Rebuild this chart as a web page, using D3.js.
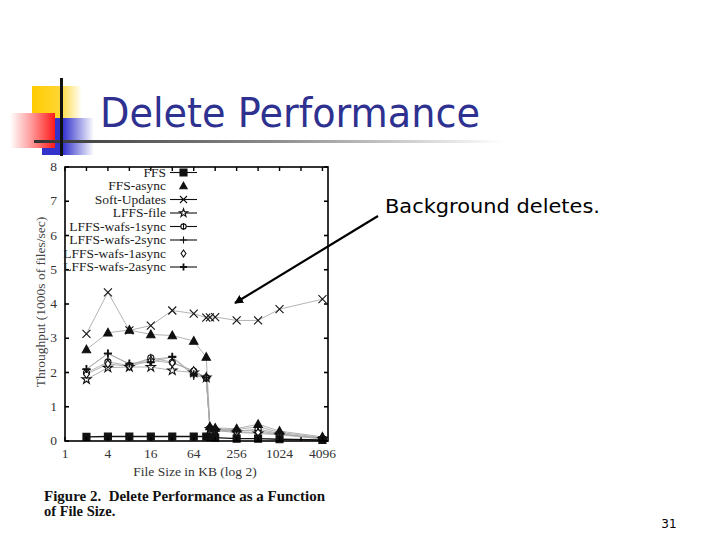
<!DOCTYPE html>
<html>
<head>
<meta charset="utf-8">
<script src="https://cdn.jsdelivr.net/npm/d3@7"></script>
<style>
  body { margin: 0; background: #fff; }
  svg { display: block; }
</style>
</head>
<body>
<svg id="slide" width="720" height="540"></svg>
<script>
// slide with a scanned gnuplot figure: delete throughput vs file size

const sizes = [2, 4, 8, 16, 32, 64, 96, 108, 128, 256, 512, 1024, 4096];
const xTicks = [1, 4, 16, 64, 256, 1024, 4096];
const yTicks = [0, 1, 2, 3, 4, 5, 6, 7, 8];

const seriesNames = ["FFS", "FFS-async", "Soft-Updates", "LFFS-file",
  "LFFS-wafs-1sync", "LFFS-wafs-2sync", "LFFS-wafs-1async", "LFFS-wafs-2async"];

const ffs        = [0.12, 0.13, 0.13, 0.13, 0.13, 0.13, 0.13, 0.11, 0.1, 0.07, 0.07, 0.05, 0.03];
const ffsAsync   = [2.67, 3.16, 3.24, 3.11, 3.08, 2.92, 2.45, 0.42, 0.38, 0.36, 0.49, 0.29, 0.12];
const softUpd    = [3.13, 4.34, 3.23, 3.37, 3.81, 3.72, 3.6, 3.61, 3.62, 3.52, 3.52, 3.85, 4.14];
const lffsFile   = [1.8, 2.14, 2.16, 2.16, 2.06, 2.0, 1.85, 0.35, 0.3, 0.25, 0.22, 0.18, 0.06];
const wafs1sync  = [1.99, 2.31, 2.2, 2.43, 2.3, 2.04, 1.85, 0.38, 0.33, 0.28, 0.35, 0.22, 0.07];
const wafs2sync  = [2.09, 2.56, 2.24, 2.38, 2.45, 1.9, 1.85, 0.4, 0.35, 0.3, 0.3, 0.2, 0.08];
const wafs1async = [1.95, 2.25, 2.18, 2.35, 2.28, 2.05, 1.85, 0.36, 0.32, 0.26, 0.25, 0.2, 0.07];
const wafs2async = [2.1, 2.55, 2.26, 2.3, 2.46, 1.95, 1.85, 0.4, 0.35, 0.33, 0.42, 0.25, 0.1];

const seriesValues = [ffs, ffsAsync, softUpd, lffsFile, wafs1sync, wafs2sync, wafs1async, wafs2async];

const svg = d3.select("#slide");
const defs = svg.append("defs");

function grad(id, stops) {
    const g = defs.append("linearGradient").attr("id", id)
        .attr("x1", 0).attr("y1", 0).attr("x2", 1).attr("y2", 0);
    stops.forEach(s => g.append("stop").attr("offset", s[0]).attr("stop-color", s[1]));
}
grad("gYel", [[0, "#ffcc00"], [0.55, "#ffd633"], [1, "#ffffff"]]);
grad("gBlue", [[0, "#3333cc"], [0.4, "#3333cc"], [1, "#ffffff"]]);
grad("gRed", [[0, "#ffffff"], [0.45, "#ffa0a0"], [1, "#ff1a1a"]]);
grad("gRule", [[0, "#333333"], [0.5, "#8a8a8a"], [1, "#ffffff"]]);

// title decoration
svg.append("rect").attr("x", 32).attr("y", 86).attr("width", 50).attr("height", 34).attr("fill", "url(#gYel)");
svg.append("rect").attr("x", 42).attr("y", 118).attr("width", 52).attr("height", 37).attr("fill", "url(#gBlue)");
svg.append("rect").attr("x", 10).attr("y", 113).attr("width", 45).attr("height", 35).attr("fill", "url(#gRed)");
svg.append("rect").attr("x", 34).attr("y", 140).attr("width", 470).attr("height", 3).attr("fill", "url(#gRule)");
svg.append("rect").attr("x", 60).attr("y", 78).attr("width", 3).attr("height", 78).attr("fill", "#111");

svg.append("text")
    .attr("x", 100).attr("y", 127)
    .attr("font-family", "DejaVu Sans, sans-serif")
    .attr("font-size", 40)
    .attr("textLength", 380).attr("lengthAdjust", "spacingAndGlyphs")
    .attr("fill", "#2e3190")
    .text("Delete Performance");

// chart frame
const plotL = 65, plotR = 328, plotT = 167, plotB = 441;
const x = d3.scaleLog().base(2).domain([1, 4900]).range([plotL, plotR]);
const y = d3.scaleLinear().domain([0, 8]).range([plotB, plotT]);

const serif = "Liberation Serif, Times New Roman, serif";
const chart = svg.append("g");

// markers
function markPath(kind, s) {
    const h = s / 2;
    switch (kind) {
        case "square": return d3.symbol(d3.symbolSquare, s * s)();
        case "triangle": return `M0,${-h * 1.1}L${h * 1.05},${h * 0.8}L${-h * 1.05},${h * 0.8}Z`;
        case "times": return `M${-h},${-h}L${h},${h}M${-h},${h}L${h},${-h}`;
        case "star": return d3.symbol(d3.symbolStar, s * s * 0.42)();
        case "circle": return d3.symbol(d3.symbolCircle, s * s * 0.45)() + `M0,${-h}L0,${h}`;
        case "plus": return `M${-h},0L${h},0M0,${-h}L0,${h}`;
        case "diamond": return `M0,${-h}L${h * 0.7},0L0,${h}L${-h * 0.7},0Z`;
        case "plus2": return `M${-h},0L${h},0M0,${-h}L0,${h}`;
    }
}
const kinds = ["square", "triangle", "times", "star", "circle", "plus", "diamond", "plus2"];
const filled = [true, true, false, false, false, false, false, false];
const lineCol = ["#111", "#aaa", "#aaa", "#aaa", "#aaa", "#aaa", "#aaa", "#aaa"];
const legendLine = [true, false, true, true, true, true, false, true];

function markFill(i) {
    if (filled[i]) return "#111";
    return (kinds[i] === "star" || kinds[i] === "diamond" || kinds[i] === "circle") ? "#fff" : "none";
}

const line = d3.line().x(d => x(d[0])).y(d => y(d[1]));

seriesValues.forEach((vals, i) => {
    const pts = sizes.map((s, j) => [s, vals[j]]);
    chart.append("path")
        .attr("d", line(pts))
        .attr("fill", "none")
        .attr("stroke", lineCol[i])
        .attr("stroke-width", i === 0 ? 1.4 : 0.9);
});

// draw markers after lines, keep FFS-async and squares on top
[3, 4, 5, 6, 7, 2, 1, 0].forEach(i => {
    const vals = seriesValues[i];
    chart.append("g").selectAll("path")
        .data(sizes.map((s, j) => [s, vals[j]]))
        .join("path")
        .attr("transform", d => `translate(${x(d[0])},${y(d[1])})`)
        .attr("d", markPath(kinds[i], i === 0 ? 7 : 8))
        .attr("fill", markFill(i))
        .attr("stroke", "#111")
        .attr("stroke-width", i === 7 ? 1.8 : 1.1);
});

// axes box with inward ticks
chart.append("rect")
    .attr("x", plotL).attr("y", plotT).attr("width", plotR - plotL).attr("height", plotB - plotT)
    .attr("fill", "none").attr("stroke", "#000").attr("stroke-width", 1.6);

const pow2 = d3.range(0, 13).map(k => 2 ** k);
chart.append("g").selectAll("line").data(pow2).join("line")
    .attr("x1", d => x(d)).attr("x2", d => x(d))
    .attr("y1", plotB).attr("y2", plotB - 4)
    .attr("stroke", "#000").attr("stroke-width", 1.4);
chart.append("g").selectAll("line").data(pow2).join("line")
    .attr("x1", d => x(d)).attr("x2", d => x(d))
    .attr("y1", plotT).attr("y2", plotT + 4)
    .attr("stroke", "#000").attr("stroke-width", 1.4);
chart.append("g").selectAll("line").data(yTicks).join("line")
    .attr("x1", plotL).attr("x2", plotL + 4)
    .attr("y1", d => y(d)).attr("y2", d => y(d))
    .attr("stroke", "#000").attr("stroke-width", 1.6);
chart.append("g").selectAll("line").data(yTicks).join("line")
    .attr("x1", plotR).attr("x2", plotR - 4)
    .attr("y1", d => y(d)).attr("y2", d => y(d))
    .attr("stroke", "#000").attr("stroke-width", 1.6);

chart.append("g").selectAll("text").data(yTicks).join("text")
    .attr("x", 57).attr("y", d => y(d) + 4)
    .attr("text-anchor", "end")
    .attr("font-family", serif).attr("font-size", 13.5).attr("fill", "#333")
    .text(d => d);

chart.append("g").selectAll("text").data(xTicks).join("text")
    .attr("x", d => x(d)).attr("y", 458)
    .attr("text-anchor", "middle")
    .attr("font-family", serif).attr("font-size", 13.5).attr("fill", "#333")
    .text(d => d);

chart.append("text")
    .attr("x", 195).attr("y", 476)
    .attr("text-anchor", "middle")
    .attr("font-family", serif).attr("font-size", 13.5).attr("fill", "#333")
    .text("File Size in KB (log 2)");

chart.append("text")
    .attr("transform", "translate(45,302) rotate(-90)")
    .attr("text-anchor", "middle")
    .attr("font-family", serif).attr("font-size", 13.5).attr("fill", "#444")
    .text("Throughput (1000s of files/sec)");

// legend
const legY = d3.scaleLinear().domain([0, 7]).range([172.5, 267]);
seriesNames.forEach((name, i) => {
    const ly = legY(i);
    const g = chart.append("g");
    g.append("text")
        .attr("x", 166).attr("y", ly + 4)
        .attr("text-anchor", "end")
        .attr("font-family", serif).attr("font-size", 13.5).attr("fill", "#222")
        .text(name);
    if (legendLine[i]) {
        g.append("line").attr("x1", 170).attr("x2", 197).attr("y1", ly).attr("y2", ly)
            .attr("stroke", "#111").attr("stroke-width", 1.1);
    }
    g.append("path")
        .attr("transform", `translate(183.5,${ly})`)
        .attr("d", markPath(kinds[i], 7))
        .attr("fill", markFill(i))
        .attr("stroke", "#111").attr("stroke-width", i === 7 ? 1.8 : 1.1);
});

// caption
svg.append("text")
    .attr("x", 44).attr("y", 501)
    .attr("font-family", serif).attr("font-weight", "bold").attr("font-size", 14.5)
    .attr("textLength", 281).attr("lengthAdjust", "spacingAndGlyphs")
    .attr("fill", "#111")
    .attr("xml:space", "preserve")
    .text("Figure 2.  Delete Performance as a Function");
svg.append("text")
    .attr("x", 44).attr("y", 516)
    .attr("font-family", serif).attr("font-weight", "bold").attr("font-size", 14.5)
    .attr("fill", "#111")
    .text("of File Size.");

// callout
defs.append("marker").attr("id", "arrow")
    .attr("viewBox", "0 0 10 10").attr("refX", 9).attr("refY", 5)
    .attr("markerWidth", 4).attr("markerHeight", 4).attr("orient", "auto")
    .append("path").attr("d", "M0,0L10,5L0,10Z").attr("fill", "#000");

svg.append("line")
    .attr("x1", 378).attr("y1", 216).attr("x2", 235).attr("y2", 303)
    .attr("stroke", "#000").attr("stroke-width", 2.2)
    .attr("marker-end", "url(#arrow)");

svg.append("text")
    .attr("x", 385).attr("y", 213)
    .attr("font-family", "DejaVu Sans, sans-serif").attr("font-size", 19)
    .attr("textLength", 215).attr("lengthAdjust", "spacingAndGlyphs")
    .attr("fill", "#000")
    .text("Background deletes.");

svg.append("text")
    .attr("x", 669).attr("y", 528)
    .attr("text-anchor", "middle")
    .attr("font-family", "DejaVu Sans, sans-serif").attr("font-size", 12)
    .attr("fill", "#000")
    .text("31");
</script>
</body>
</html>
